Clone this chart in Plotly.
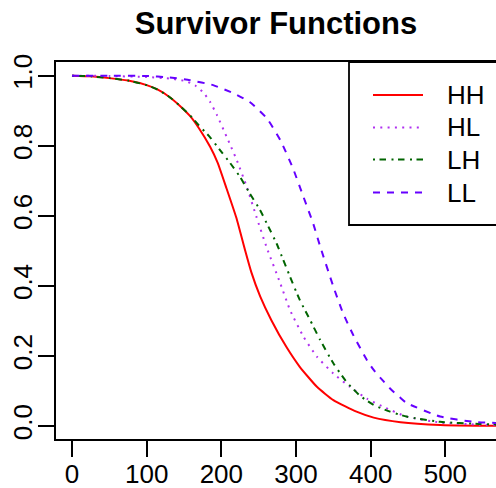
import plotly.graph_objects as go

series_names = ["HH", "HL", "LH", "LL"]

hh_x = [0, 25, 50, 75, 100, 115, 130, 145, 158, 170, 185, 195, 207, 220, 232, 240, 252, 267, 287, 305, 328, 350, 381, 404, 440, 493, 545, 600]
hh_y = [1.0, 0.998, 0.993, 0.986, 0.973, 0.960, 0.940, 0.913, 0.885, 0.850, 0.797, 0.752, 0.678, 0.595, 0.50, 0.44, 0.37, 0.302, 0.226, 0.169, 0.112, 0.074, 0.041, 0.024, 0.011, 0.003, 0.001, 0.0]

hl_x = [0, 50, 100, 130, 153, 165, 176, 185, 194, 207, 212, 221, 234, 247, 261, 279, 292, 310, 328, 350, 372, 395, 420, 448, 493, 545, 600]
hl_y = [1.0, 0.999, 0.996, 0.992, 0.984, 0.972, 0.952, 0.925, 0.888, 0.826, 0.802, 0.757, 0.683, 0.597, 0.508, 0.407, 0.331, 0.255, 0.198, 0.150, 0.112, 0.078, 0.052, 0.027, 0.010, 0.004, 0.001]

lh_x = [0, 25, 50, 75, 100, 115, 130, 145, 158, 170, 185, 198, 212, 225, 238, 252, 263, 274, 279, 292, 305, 319, 332, 350, 368, 386, 404, 426, 448, 493, 545, 600]
lh_y = [1.0, 0.998, 0.993, 0.986, 0.973, 0.960, 0.940, 0.913, 0.887, 0.858, 0.824, 0.788, 0.75, 0.711, 0.664, 0.616, 0.569, 0.521, 0.495, 0.426, 0.36, 0.302, 0.247, 0.179, 0.125, 0.086, 0.06, 0.041, 0.027, 0.012, 0.006, 0.003]

ll_x = [0, 50, 100, 130, 158, 189, 216, 238, 261, 279, 296, 310, 323, 332, 350, 363, 377, 395, 404, 417, 426, 439, 448, 493, 538, 600]
ll_y = [1.0, 1.0, 0.999, 0.995, 0.987, 0.973, 0.95, 0.925, 0.878, 0.816, 0.735, 0.654, 0.578, 0.515, 0.398, 0.322, 0.258, 0.188, 0.16, 0.128, 0.107, 0.082, 0.066, 0.027, 0.012, 0.006]

x_ticks = [0, 100, 200, 300, 400, 500]
y_ticks = [0.0, 0.2, 0.4, 0.6, 0.8, 1.0]
y_tick_text = ["0.0", "0.2", "0.4", "0.6", "0.8", "1.0"]

colors = ["#FF0000", "#B030F0", "#006400", "#6600FF"]
dashes = ["solid", "2px,5.3px", "2px,4.5px,6.5px,5.5px", "7px,7px"]

FONT = "Liberation Sans, Arial, Helvetica, sans-serif"

fig = go.Figure()
data = {"HH": (hh_x, hh_y), "HL": (hl_x, hl_y), "LH": (lh_x, lh_y), "LL": (ll_x, ll_y)}
for name, col, dsh in zip(series_names, colors, dashes):
    xs, ys = data[name]
    fig.add_trace(go.Scatter(x=xs, y=ys, mode="lines", name=name,
                             line=dict(color=col, width=2, dash=dsh, shape="spline", smoothing=0.5),
                             showlegend=False))

W, H = 496, 488
ml, mt, mb, mr = 56, 62, 49, 0
pw, ph = W - ml - mr, H - mt - mb
def px2paper_x(px):
    return (px - ml) / pw
def px2paper_y(py):
    return (H - mb - py) / ph

shapes = [dict(type="rect", xref="paper", yref="paper",
               x0=px2paper_x(349), x1=px2paper_x(520), y0=px2paper_y(225), y1=1.0,
               line=dict(color="black", width=1.8), fillcolor="white", layer="above")]
legend_y = [95, 127.5, 159.5, 192.5]
annotations = []
for name, col, dsh, ly in zip(series_names, colors, dashes, legend_y):
    shapes.append(dict(type="line", xref="paper", yref="paper",
                       x0=px2paper_x(373), x1=px2paper_x(423),
                       y0=px2paper_y(ly), y1=px2paper_y(ly),
                       line=dict(color=col, width=2, dash=dsh), layer="above"))
    annotations.append(dict(text=name, xref="paper", yref="paper",
                            x=px2paper_x(445), y=px2paper_y(ly), xanchor="left", yanchor="middle",
                            showarrow=False, font=dict(family=FONT, size=26, color="black")))

fig.update_layout(
    width=W, height=H,
    margin=dict(l=ml, r=mr, t=mt, b=mb, pad=0, autoexpand=False),
    paper_bgcolor="white", plot_bgcolor="white",
    title=dict(text="Survivor Functions", x=0.5, xref="paper", xanchor="center",
               y=1 - 23 / H, yref="container", yanchor="middle",
               font=dict(family=FONT, size=31, color="black", weight="bold")),
    xaxis=dict(range=[-21.4, 567.8], tickvals=x_ticks, ticks="outside", ticklen=16, tickwidth=1.8,
               tickcolor="black", showline=True, linecolor="black", linewidth=1.8, mirror=True,
               showgrid=False, zeroline=False, automargin=False, ticklabelstandoff=-5,
               tickfont=dict(family=FONT, size=26, color="black")),
    yaxis=dict(range=[-0.037, 1.039], tickvals=y_ticks, ticktext=y_tick_text, tickangle=-90,
               ticks="outside", ticklen=16, tickwidth=1.8, tickcolor="black",
               showline=True, linecolor="black", linewidth=1.8, mirror=False,
               showgrid=False, zeroline=False, automargin=False, ticklabelstandoff=-4,
               tickfont=dict(family=FONT, size=26, color="black")),
    shapes=shapes, annotations=annotations,
)

fig.write_html("out.html")
